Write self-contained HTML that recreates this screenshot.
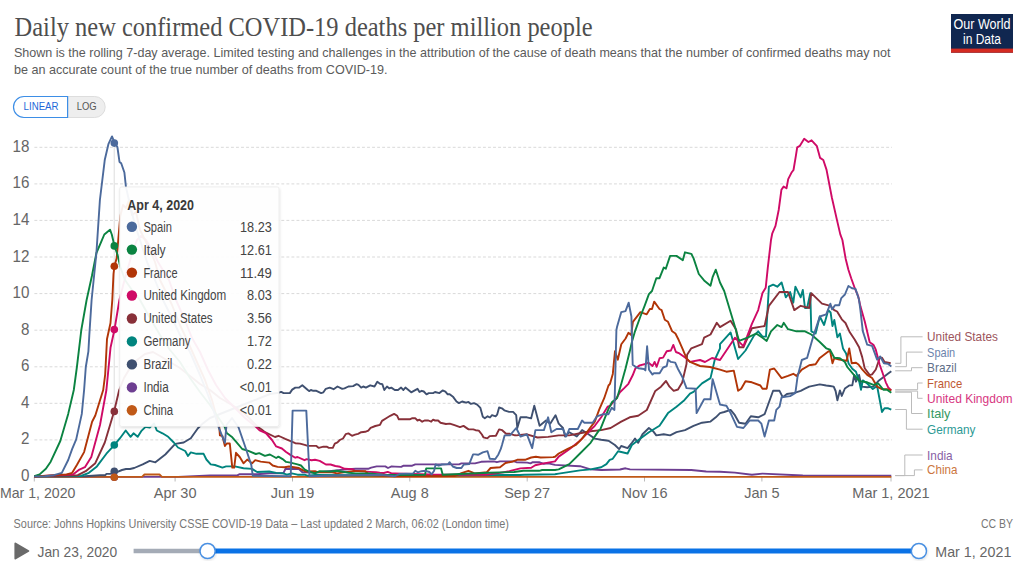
<!DOCTYPE html><html><head><meta charset="utf-8"><style>html,body{margin:0;padding:0;background:#fff;width:1024px;height:565px;overflow:hidden}svg{display:block}text{font-family:"Liberation Sans",sans-serif}</style></head><body>
<svg width="1024" height="565" viewBox="0 0 1024 565">
<text x="14.6" y="35.8" font-family="Liberation Serif" style="font-family:'Liberation Serif',serif" font-size="27" fill="#4e4e4e" textLength="578" lengthAdjust="spacingAndGlyphs">Daily new confirmed COVID-19 deaths per million people</text>
<text x="13.9" y="57" font-size="13.4" fill="#5b5b5b" textLength="876.5" lengthAdjust="spacingAndGlyphs">Shown is the rolling 7-day average. Limited testing and challenges in the attribution of the cause of death means that the number of confirmed deaths may not</text>
<text x="13.9" y="73.75" font-size="13.4" fill="#5b5b5b" textLength="373.6" lengthAdjust="spacingAndGlyphs">be an accurate count of the true number of deaths from COVID-19.</text>
<rect x="951" y="14" width="62" height="38.7" fill="#102750"/><rect x="951" y="48.6" width="62" height="4.1" fill="#d42b21"/>
<text x="982" y="29.3" font-size="13.8" fill="#fff" text-anchor="middle" textLength="57" lengthAdjust="spacingAndGlyphs">Our World</text>
<text x="982" y="43.9" font-size="13.8" fill="#fff" text-anchor="middle" textLength="38" lengthAdjust="spacingAndGlyphs">in Data</text>
<path d="M67.6,96.5 H94.7 A10.5,10.5 0 0 1 94.7,117.5 H67.6 Z" fill="#eee" stroke="#ddd" stroke-width="1"/>
<path d="M67.6,96.5 H24 A10.5,10.5 0 0 0 24,117.5 H67.6 Z" fill="#fff" stroke="#3d8ee6" stroke-width="1.2"/>
<text x="23.6" y="110" font-size="11.8" fill="#1d68d8" textLength="34.9" lengthAdjust="spacingAndGlyphs">LINEAR</text>
<text x="76.7" y="110" font-size="11.8" fill="#555" textLength="19.9" lengthAdjust="spacingAndGlyphs">LOG</text>
<line x1="34.4" y1="439.9" x2="892" y2="439.9" stroke="#d9d9d9" stroke-width="1" stroke-dasharray="2.9,2.14"/>
<line x1="34.4" y1="403.3" x2="892" y2="403.3" stroke="#d9d9d9" stroke-width="1" stroke-dasharray="2.9,2.14"/>
<line x1="34.4" y1="366.8" x2="892" y2="366.8" stroke="#d9d9d9" stroke-width="1" stroke-dasharray="2.9,2.14"/>
<line x1="34.4" y1="330.2" x2="892" y2="330.2" stroke="#d9d9d9" stroke-width="1" stroke-dasharray="2.9,2.14"/>
<line x1="34.4" y1="293.6" x2="892" y2="293.6" stroke="#d9d9d9" stroke-width="1" stroke-dasharray="2.9,2.14"/>
<line x1="34.4" y1="257.0" x2="892" y2="257.0" stroke="#d9d9d9" stroke-width="1" stroke-dasharray="2.9,2.14"/>
<line x1="34.4" y1="220.4" x2="892" y2="220.4" stroke="#d9d9d9" stroke-width="1" stroke-dasharray="2.9,2.14"/>
<line x1="34.4" y1="183.9" x2="892" y2="183.9" stroke="#d9d9d9" stroke-width="1" stroke-dasharray="2.9,2.14"/>
<line x1="34.4" y1="147.3" x2="892" y2="147.3" stroke="#d9d9d9" stroke-width="1" stroke-dasharray="2.9,2.14"/>
<text x="29.5" y="481.1" font-size="16" fill="#666" text-anchor="end" transform="translate(29.5 476.5) scale(0.95 1) translate(-29.5 -476.5)">0</text>
<text x="29.5" y="444.5" font-size="16" fill="#666" text-anchor="end" transform="translate(29.5 439.9) scale(0.95 1) translate(-29.5 -439.9)">2</text>
<text x="29.5" y="407.9" font-size="16" fill="#666" text-anchor="end" transform="translate(29.5 403.3) scale(0.95 1) translate(-29.5 -403.3)">4</text>
<text x="29.5" y="371.4" font-size="16" fill="#666" text-anchor="end" transform="translate(29.5 366.8) scale(0.95 1) translate(-29.5 -366.8)">6</text>
<text x="29.5" y="334.8" font-size="16" fill="#666" text-anchor="end" transform="translate(29.5 330.2) scale(0.95 1) translate(-29.5 -330.2)">8</text>
<text x="29.5" y="298.2" font-size="16" fill="#666" text-anchor="end" transform="translate(29.5 293.6) scale(0.95 1) translate(-29.5 -293.6)">10</text>
<text x="29.5" y="261.6" font-size="16" fill="#666" text-anchor="end" transform="translate(29.5 257.0) scale(0.95 1) translate(-29.5 -257.0)">12</text>
<text x="29.5" y="225.0" font-size="16" fill="#666" text-anchor="end" transform="translate(29.5 220.4) scale(0.95 1) translate(-29.5 -220.4)">14</text>
<text x="29.5" y="188.5" font-size="16" fill="#666" text-anchor="end" transform="translate(29.5 183.9) scale(0.95 1) translate(-29.5 -183.9)">16</text>
<text x="29.5" y="151.9" font-size="16" fill="#666" text-anchor="end" transform="translate(29.5 147.3) scale(0.95 1) translate(-29.5 -147.3)">18</text>
<line x1="34.3" y1="477" x2="34.3" y2="481.5" stroke="#bbb" stroke-width="1"/>
<text x="0" y="498" font-size="14.5" fill="#666" textLength="75.4" lengthAdjust="spacingAndGlyphs">Mar 1, 2020</text>
<line x1="175.1" y1="477" x2="175.1" y2="481.5" stroke="#bbb" stroke-width="1"/>
<text x="175.1" y="498" font-size="14.5" fill="#666" text-anchor="middle">Apr 30</text>
<line x1="292.5" y1="477" x2="292.5" y2="481.5" stroke="#bbb" stroke-width="1"/>
<text x="292.5" y="498" font-size="14.5" fill="#666" text-anchor="middle">Jun 19</text>
<line x1="409.8" y1="477" x2="409.8" y2="481.5" stroke="#bbb" stroke-width="1"/>
<text x="409.8" y="498" font-size="14.5" fill="#666" text-anchor="middle">Aug 8</text>
<line x1="527.2" y1="477" x2="527.2" y2="481.5" stroke="#bbb" stroke-width="1"/>
<text x="527.2" y="498" font-size="14.5" fill="#666" text-anchor="middle">Sep 27</text>
<line x1="644.5" y1="477" x2="644.5" y2="481.5" stroke="#bbb" stroke-width="1"/>
<text x="644.5" y="498" font-size="14.5" fill="#666" text-anchor="middle">Nov 16</text>
<line x1="761.9" y1="477" x2="761.9" y2="481.5" stroke="#bbb" stroke-width="1"/>
<text x="761.9" y="498" font-size="14.5" fill="#666" text-anchor="middle">Jan 5</text>
<line x1="891.0" y1="477" x2="891.0" y2="481.5" stroke="#bbb" stroke-width="1"/>
<text x="891.0" y="498" font-size="14.5" fill="#666" text-anchor="middle">Mar 1, 2021</text>
<line x1="34.3" y1="476.5" x2="891.5" y2="476.5" stroke="#ccc" stroke-width="1"/>
<line x1="114.2" y1="142.7" x2="114.2" y2="476.5" stroke="#ddd" stroke-width="1"/>
<polyline points="34.3,476.9 178.0,476.9 210.0,475.4 237.3,475.4 239.7,474.2 257.1,474.2 270.0,473.3 283.3,473.3 285.4,469.0 298.9,469.0 302.4,472.2 315.0,472.6 340.8,469.9 344.7,469.5 355.6,468.8 368.1,468.8 371.2,467.6 376.7,466.4 385.3,466.4 388.0,468.0 391.6,466.4 395.0,466.6 401.2,466.9 403.6,465.7 412.2,465.7 415.3,464.4 459.1,464.4 461.4,463.4 475.0,463.4 481.2,461.8 493.8,461.4 496.9,462.2 500.0,461.4 514.1,461.4 516.4,462.2 527.3,462.6 530.5,463.4 532.8,462.2 539.1,462.2 543.8,463.8 548.4,463.4 555.0,464.9 558.7,465.1 580.0,466.2 590.6,469.4 601.2,470.0 620.0,469.5 625.5,468.3 630.0,469.4 691.3,470.0 706.2,471.5 720.0,471.8 734.9,472.6 751.9,474.7 762.5,473.6 802.8,475.5 891.3,475.6" fill="none" stroke="#6D3E91" stroke-width="1.9" stroke-linejoin="round"/>
<polyline points="34.3,476.9 142.0,476.9 144.5,474.5 159.5,474.5 162.0,476.9 891.3,476.9" fill="none" stroke="#C05917" stroke-width="1.9" stroke-linejoin="round"/>
<polyline points="34.3,476.4 85.0,476.2 100.0,475.2 105.3,475.2 106.5,473.9 110.0,473.9 114.1,472.5 117.5,471.9 122.0,470.0 126.0,469.0 130.0,469.0 134.2,468.0 142.7,464.4 149.7,460.9 155.4,462.3 165.3,454.5 175.2,443.9 183.7,442.5 190.8,438.2 197.9,428.3 202.2,424.1 210.0,418.0 220.0,414.0 230.0,410.0 240.0,406.0 250.0,402.0 260.0,398.0 270.0,394.0 278.9,392.7 281.2,391.9 283.6,393.1 289.8,393.1 292.2,389.6 295.3,387.6 299.2,387.6 302.3,385.3 307.8,390.0 309.4,391.1 310.9,390.0 313.3,390.8 316.4,390.8 321.1,393.1 323.4,392.3 325.8,388.8 329.7,387.6 333.6,389.2 337.5,386.5 342.2,388.8 344.5,388.4 348.4,386.5 353.1,386.1 356.6,384.1 358.5,384.9 361.2,387.6 363.2,386.5 365.9,387.6 370.2,385.3 374.5,386.5 377.3,381.8 380.0,383.7 382.3,384.1 384.3,390.0 387.0,386.5 389.4,388.4 391.3,387.6 394.8,390.0 398.0,390.0 401.1,387.6 403.4,390.0 405.4,387.6 411.2,392.3 417.5,388.8 419.5,391.9 421.8,390.8 423.8,391.5 426.5,394.3 428.8,393.1 433.1,393.1 435.0,392.0 439.4,393.1 442.6,390.4 445.4,391.6 447.7,394.3 449.7,394.3 453.3,397.1 456.5,401.5 458.9,403.1 462.1,401.5 466.1,402.7 468.5,401.9 470.9,403.9 474.0,403.1 477.2,404.7 480.4,407.9 482.8,416.7 484.8,418.2 487.6,416.3 490.0,417.5 492.0,415.1 495.6,416.3 497.1,414.7 499.1,407.5 501.9,408.3 504.3,410.3 509.1,411.9 513.1,411.9 516.2,415.2 517.3,428.0 520.5,417.3 526.9,417.3 531.1,418.4 534.3,405.7 539.6,425.8 546.0,420.5 550.2,423.7 555.5,415.2 558.7,423.7 563.0,428.0 565.1,436.5 569.3,432.2 576.8,436.5 582.1,430.1 588.5,434.3 594.8,438.6 601.2,439.7 608.5,440.7 614.9,445.0 619.1,449.2 621.2,446.0 627.6,448.1 631.9,442.8 635.0,438.6 638.2,442.8 642.5,434.3 648.9,428.0 653.1,431.2 656.3,435.4 663.7,434.3 670.1,435.4 676.5,432.2 685.0,430.1 693.5,425.8 702.0,422.7 710.5,421.6 715.8,417.3 720.0,413.1 724.2,412.0 730.6,409.9 734.9,415.2 739.1,422.7 745.5,423.7 750.8,416.3 758.2,417.3 764.6,414.2 773.1,390.8 779.5,390.8 782.7,397.2 786.9,394.0 794.3,392.9 800.7,390.8 805.0,388.7 809.2,386.6 819.8,384.4 826.2,385.5 830.0,386.0 833.7,386.6 835.6,391.0 837.4,400.3 839.9,390.4 841.8,395.9 844.9,388.5 849.2,385.4 852.3,385.4 854.2,374.9 856.0,381.7 859.1,374.9 861.6,386.6 867.2,387.3 873.4,386.6 878.3,381.1 883.3,377.3 888.2,373.6 891.3,371.2" fill="none" stroke="#3F5070" stroke-width="1.9" stroke-linejoin="round"/>
<polyline points="34.3,476.4 81.0,476.0 88.9,472.8 96.9,466.4 106.4,453.7 114.1,445.4 120.0,438.2 125.7,430.5 130.6,436.8 133.5,433.3 137.7,436.8 141.2,431.2 145.5,426.9 149.7,427.6 154.0,423.4 156.8,430.5 162.5,433.3 168.2,436.8 173.8,442.5 178.0,447.5 185.2,451.0 188.0,456.0 190.8,452.4 196.5,453.8 203.6,453.8 206.4,459.5 210.7,464.4 215.0,465.0 222.4,467.6 226.1,466.4 234.8,466.4 243.5,468.2 252.1,468.9 257.1,472.0 269.2,471.5 276.2,472.9 283.3,473.3 286.8,474.7 291.8,473.3 297.5,474.7 304.5,474.7 307.4,475.7 315.0,475.0 400.0,475.5 520.0,475.0 524.2,474.7 555.0,474.3 558.7,473.6 580.0,470.4 590.6,469.4 601.2,467.3 606.4,464.1 609.7,459.8 612.7,458.8 618.1,451.3 627.6,453.5 631.9,445.0 640.4,438.6 648.9,432.2 659.5,425.8 668.0,413.1 676.5,406.7 683.7,400.8 690.0,393.7 693.5,391.9 702.0,383.4 710.5,378.1 714.7,360.0 720.0,348.3 720.0,344.1 730.6,332.4 738.1,359.0 745.5,350.5 754.0,335.6 758.2,331.3 762.5,336.6 766.0,336.6 768.9,286.7 773.1,284.6 777.3,286.7 781.6,282.5 785.8,297.3 790.1,292.0 793.3,302.7 795.4,286.7 800.7,297.3 802.8,289.9 805.0,308.0 807.1,308.0 810.3,293.1 811.3,331.3 815.6,333.5 819.8,316.5 824.1,325.0 828.3,310.1 830.6,312.5 832.5,326.1 834.3,319.9 837.4,337.3 839.9,333.5 843.0,348.4 846.1,353.4 848.6,363.5 852.3,368.7 856.0,371.8 859.1,381.1 861.0,389.7 862.8,380.4 867.2,383.5 872.8,389.1 877.1,386.0 882.0,412.0 884.5,408.3 888.2,408.3 891.3,409.6" fill="none" stroke="#00847E" stroke-width="1.9" stroke-linejoin="round"/>
<polyline points="34.3,476.4 77.8,475.2 85.7,471.2 95.3,463.2 104.8,442.5 114.1,411.5 119.2,390.0 124.0,378.0 130.0,368.0 137.0,360.0 145.0,354.0 153.0,352.0 160.0,356.0 170.0,362.0 180.0,368.0 190.0,376.0 200.0,384.0 210.0,390.0 220.0,398.0 232.0,405.0 245.0,414.0 258.3,427.3 262.0,429.8 265.0,432.2 275.0,437.0 278.5,435.8 281.2,437.0 285.2,438.9 290.6,441.2 295.3,443.2 300.0,443.6 304.7,444.8 307.8,445.9 316.4,445.9 318.8,447.9 323.4,446.7 326.6,446.7 328.9,447.9 332.8,447.9 334.8,443.6 337.5,442.4 339.8,440.0 343.0,438.5 345.7,434.2 348.4,433.4 352.0,435.8 355.0,434.6 358.1,433.8 361.2,432.2 365.2,431.8 368.3,430.6 370.6,427.9 375.3,426.0 380.0,424.8 382.0,420.9 386.2,418.2 390.2,415.8 394.1,413.9 397.2,415.8 398.8,419.3 409.7,419.3 412.4,418.2 415.2,418.2 417.5,420.5 419.5,419.7 422.2,421.7 424.5,420.5 428.4,420.5 431.2,421.7 433.1,419.7 435.0,420.5 438.1,420.5 440.5,422.8 445.9,424.0 449.8,423.6 454.5,425.2 460.0,427.1 463.5,425.9 468.6,429.4 473.3,429.4 475.6,430.2 478.8,430.6 481.9,434.5 483.4,437.3 487.3,438.4 489.7,436.1 495.9,435.7 499.1,429.4 502.2,430.2 506.1,433.8 510.0,433.8 515.0,435.3 516.2,435.4 526.9,434.3 537.5,437.5 548.1,436.9 558.7,435.4 569.3,435.4 580.0,433.3 590.6,431.2 601.2,430.1 610.6,428.0 621.2,421.6 629.7,417.3 638.2,415.7 646.8,410.0 655.3,390.9 661.0,386.7 666.0,381.0 669.5,386.7 673.7,390.9 678.0,389.5 682.2,382.4 686.5,364.0 687.1,354.7 691.3,348.3 702.0,344.1 704.1,337.7 710.5,334.5 716.8,322.8 720.0,327.1 730.6,320.7 735.9,329.2 739.1,347.3 743.4,347.3 751.9,328.2 764.6,326.0 768.9,305.8 779.5,292.0 788.0,292.0 794.3,310.1 800.7,305.8 809.2,308.0 811.3,293.1 822.0,303.7 830.4,305.8 834.2,310.1 837.1,311.5 841.8,319.3 845.5,323.0 849.8,332.3 854.8,339.7 859.1,347.2 862.2,357.1 864.7,368.2 869.7,375.1 872.1,374.4 875.8,369.5 879.6,358.3 882.0,357.7 884.5,362.0 890.7,363.3" fill="none" stroke="#883039" stroke-width="1.9" stroke-linejoin="round"/>
<polyline points="34.3,476.4 73.0,474.4 79.4,469.6 84.9,467.2 91.3,456.9 100.0,425.0 106.4,390.0 110.5,347.8 114.4,330.0 119.4,300.0 124.0,282.0 128.0,268.0 133.0,250.0 137.0,240.0 141.0,236.0 146.0,240.0 152.0,250.0 158.0,262.0 164.0,272.0 169.0,280.0 176.0,300.0 184.0,318.0 192.0,338.0 200.0,352.0 208.0,370.0 216.0,385.0 225.0,398.0 235.0,408.0 245.0,418.0 256.5,427.3 259.6,430.4 265.8,433.0 272.0,440.0 276.2,446.4 281.9,448.5 286.1,452.0 290.4,454.9 295.3,457.7 297.5,457.0 304.5,460.2 306.7,459.1 311.6,460.2 315.0,459.8 319.7,460.9 325.9,464.5 330.6,464.5 335.3,466.0 340.0,466.8 344.7,468.8 352.5,469.1 354.8,470.7 369.7,471.9 375.9,472.3 379.8,472.7 383.8,473.0 387.7,471.9 391.6,473.4 395.0,473.4 430.0,474.5 470.0,474.8 485.2,474.7 498.4,473.1 509.4,471.2 520.3,468.4 531.2,467.7 535.2,465.3 543.8,463.4 555.0,461.4 558.7,456.6 569.3,449.2 580.0,440.7 588.5,432.2 594.8,425.8 601.2,417.3 607.6,406.7 610.0,405.8 615.7,399.4 619.9,392.3 624.2,388.1 628.4,383.8 632.7,375.3 635.5,368.2 639.7,365.4 645.4,364.0 648.2,362.6 652.5,366.1 654.6,361.9 656.7,366.8 659.6,358.3 663.1,357.6 666.7,351.2 670.9,350.5 673.3,344.9 675.9,352.0 679.4,353.4 685.1,357.6 690.0,361.9 700.0,360.0 705.0,362.0 712.0,358.0 720.0,360.0 726.4,350.5 734.9,337.7 743.4,346.2 751.9,323.9 758.2,310.1 762.5,293.1 765.7,287.8 767.8,267.6 771.0,240.0 772.3,233.3 775.5,225.9 778.7,210.0 781.4,189.8 783.6,186.6 786.5,188.3 788.2,179.2 791.4,172.8 793.5,170.0 795.7,156.9 797.2,147.3 799.9,145.8 804.2,138.8 808.4,142.0 811.6,140.3 816.9,146.2 820.1,157.9 823.3,160.0 826.5,169.6 831.8,197.2 837.1,220.6 840.3,234.4 842.4,240.0 845.6,258.4 848.4,269.7 851.2,278.2 854.8,288.2 858.3,296.7 860.5,306.6 864.7,321.2 869.7,342.2 873.4,344.7 875.8,349.7 879.6,364.5 882.0,371.2 885.8,382.3 888.2,387.3 891.3,390.4" fill="none" stroke="#CF0A66" stroke-width="1.9" stroke-linejoin="round"/>
<polyline points="34.3,476.4 66.6,474.4 72.2,472.8 77.0,464.8 84.1,452.1 92.1,421.8 95.3,415.5 103.2,390.0 105.2,374.3 107.0,339.0 110.5,323.0 112.3,300.0 113.5,274.0 114.4,266.4 116.7,258.0 119.4,226.5 120.3,216.0 123.0,205.0 126.0,208.0 129.0,200.0 132.0,215.0 136.0,212.0 140.0,230.0 145.0,240.0 150.0,250.0 155.0,262.0 160.0,280.0 166.0,292.0 172.0,305.0 180.0,325.0 188.0,342.0 196.0,360.0 205.0,380.0 212.0,400.0 219.3,427.3 219.9,435.4 222.4,436.0 224.9,446.0 226.7,443.5 229.8,443.5 232.3,467.6 234.2,467.6 236.0,452.8 239.7,457.0 243.5,463.3 247.2,459.6 252.1,463.3 255.2,460.2 260.7,461.6 269.2,462.6 272.7,465.5 277.6,466.9 284.7,467.2 289.0,466.5 293.9,467.2 298.9,468.0 303.1,470.4 306.0,471.5 315.0,471.1 318.1,472.3 332.2,472.3 336.9,473.4 352.5,471.1 365.0,471.1 369.7,475.0 395.0,476.2 455.0,476.0 461.4,473.1 468.4,470.8 472.3,472.3 475.0,473.5 486.7,472.3 490.6,468.0 500.0,467.3 505.5,463.0 511.7,461.8 517.2,459.8 525.0,459.8 531.2,457.5 535.9,456.7 540.6,457.5 553.1,457.1 555.0,456.7 558.7,453.5 567.2,449.2 575.7,445.0 582.1,438.6 588.5,430.1 594.8,421.6 599.1,409.9 604.2,398.2 608.5,385.5 610.0,383.8 612.8,373.9 615.0,351.2 617.8,359.7 621.3,344.2 625.6,338.5 628.4,332.8 631.2,335.0 632.9,321.8 640.4,312.2 646.7,314.3 649.9,309.0 652.0,309.0 654.2,301.6 659.5,309.0 661.6,310.1 664.8,319.7 668.0,321.8 672.2,331.3 675.4,333.5 678.6,339.8 682.8,349.4 686.5,358.3 690.0,361.9 700.0,366.0 710.0,367.0 720.0,369.6 726.4,371.7 733.8,370.6 738.1,390.8 741.2,388.7 745.5,381.2 751.9,382.3 760.4,385.5 762.5,388.7 766.7,388.7 769.9,369.6 774.2,368.5 781.6,378.1 788.0,375.9 793.3,373.8 796.5,375.9 801.8,369.6 809.2,365.3 815.6,364.2 819.8,357.9 828.3,351.5 830.0,350.9 832.5,363.3 834.3,358.3 839.3,359.6 846.7,360.8 849.2,348.4 851.7,363.3 856.0,362.7 858.5,364.5 862.2,369.3 867.2,374.9 872.1,378.0 877.1,386.6 882.0,389.1 887.0,389.1 891.3,390.4" fill="none" stroke="#B13507" stroke-width="1.9" stroke-linejoin="round"/>
<polyline points="34.3,476.2 39.6,474.4 45.9,468.8 50.7,461.7 60.3,441.0 68.2,413.9 73.8,390.0 76.9,367.0 81.3,330.0 86.6,300.0 91.9,276.0 96.4,253.0 101.7,240.7 104.3,234.5 110.0,229.7 111.8,234.5 114.4,245.7 117.6,254.9 120.3,267.0 125.0,280.0 132.0,290.0 140.0,300.0 150.0,318.0 160.0,335.0 170.0,350.0 180.0,362.0 190.0,378.0 200.0,392.0 210.0,405.0 220.0,420.0 224.9,427.3 226.7,433.0 232.3,437.3 236.0,441.6 242.2,449.0 248.4,450.9 255.8,454.0 259.2,453.1 264.9,455.9 269.9,454.5 276.2,458.0 278.4,456.6 282.6,459.1 286.1,461.9 290.4,462.6 297.5,464.4 301.0,465.5 304.5,469.4 308.8,471.5 315.0,473.4 319.7,471.1 330.6,471.5 336.9,470.7 348.6,472.7 355.6,473.4 369.7,473.4 385.3,475.0 395.0,475.0 425.1,474.7 426.2,468.4 441.1,468.4 442.7,474.7 489.1,472.7 514.1,472.0 523.4,470.8 539.1,470.8 542.2,470.0 555.0,470.0 558.7,469.4 569.3,464.1 580.0,453.5 590.6,442.8 599.1,430.1 600.0,430.1 608.5,408.9 612.1,402.0 617.1,398.0 621.3,383.8 625.6,368.2 629.8,351.2 631.9,342.0 635.0,331.3 640.4,316.5 644.6,305.8 648.9,294.2 652.0,291.0 656.3,278.2 659.5,278.2 663.7,267.6 665.8,268.7 670.1,255.9 676.5,255.9 682.8,260.2 685.0,252.3 691.3,253.8 693.5,258.1 698.8,274.0 704.1,280.4 710.5,285.7 712.6,277.2 715.8,269.7 720.0,282.5 724.2,291.0 730.6,312.2 737.0,333.5 739.1,340.9 747.6,337.7 756.1,333.5 762.5,337.7 766.7,340.9 771.0,331.3 777.3,325.0 781.6,327.1 783.7,322.8 788.0,329.2 796.5,331.3 805.0,331.3 811.3,334.5 819.8,342.0 826.2,348.3 830.0,349.7 834.3,357.7 839.9,358.3 844.9,362.0 847.3,367.0 853.5,374.3 859.7,381.1 867.2,382.3 873.4,384.8 878.3,383.5 883.3,389.7 887.0,389.7 891.3,392.8" fill="none" stroke="#0B8341" stroke-width="1.9" stroke-linejoin="round"/>
<polyline points="34.3,476.4 45.0,476.3 53.9,475.2 61.8,472.8 68.2,460.0 72.2,448.9 76.2,439.4 81.8,413.9 84.1,390.0 85.8,367.0 88.4,351.3 89.3,335.4 91.6,300.0 96.4,253.0 99.9,200.0 104.8,159.7 108.4,144.2 112.0,136.4 114.5,142.7 117.4,147.0 119.5,161.9 121.2,163.3 124.4,172.5 125.9,186.7 130.0,205.0 135.0,225.0 140.0,240.0 147.0,262.0 155.0,280.0 163.0,300.0 172.0,318.0 180.0,335.0 190.0,352.0 200.0,375.0 208.0,395.0 214.0,412.0 218.7,427.3 224.9,442.8 226.5,425.0 232.0,418.0 238.5,427.3 246.0,449.0 251.3,465.0 252.8,475.9 270.0,476.0 290.7,476.2 292.6,410.6 306.3,410.6 309.5,476.2 340.0,475.5 380.0,474.8 395.0,476.2 399.7,473.9 413.0,473.5 415.3,470.8 417.7,472.3 421.6,471.2 425.5,470.8 429.4,472.0 431.7,474.3 434.1,470.8 435.6,464.5 438.8,465.7 441.9,464.5 448.1,464.1 449.7,462.2 452.8,466.5 456.7,468.0 461.4,468.0 463.8,464.5 469.2,464.1 473.1,454.4 475.0,454.4 478.1,454.8 482.8,452.4 487.5,451.2 489.8,458.7 495.3,459.1 498.4,454.4 500.8,448.9 502.0,445.0 504.6,435.4 509.9,435.4 516.2,428.0 520.5,436.5 526.9,434.3 532.2,448.1 535.4,430.1 543.9,430.1 548.1,417.3 551.3,432.2 556.6,429.0 563.0,429.0 566.2,436.5 569.3,429.0 577.8,429.0 582.1,420.5 584.2,422.7 592.7,422.7 597.0,416.3 603.3,414.2 608.5,414.2 611.7,407.8 614.4,409.9 616.4,330.0 617.0,327.1 621.2,312.2 625.5,311.1 628.7,302.7 631.4,316.5 632.7,364.7 635.5,366.8 638.3,368.2 644.0,369.0 645.4,370.4 647.1,346.3 649.0,369.7 652.5,374.6 653.9,373.2 659.6,373.2 663.1,367.5 666.7,366.1 668.1,359.7 670.9,361.9 675.2,362.6 678.0,369.0 682.2,376.7 686.5,388.1 695.6,388.7 696.6,413.1 704.1,399.3 710.5,399.3 712.6,379.1 720.0,404.6 726.4,405.7 730.6,413.1 737.0,426.9 743.4,428.0 749.7,420.5 758.2,420.5 761.4,423.7 764.6,436.5 768.9,420.5 774.2,420.5 776.3,409.9 779.5,406.7 781.6,397.2 790.1,396.1 795.4,392.9 797.5,377.0 801.8,360.0 807.1,357.9 813.5,335.6 819.8,316.5 826.2,314.3 830.4,303.7 832.1,309.4 835.0,305.2 839.2,305.2 841.3,298.1 844.9,294.5 848.4,286.0 852.0,288.2 855.5,288.9 859.0,299.5 860.4,310.0 862.8,331.1 867.2,344.7 872.1,345.9 877.1,359.6 880.2,356.5 883.9,363.3 888.2,363.9 891.3,366.4" fill="none" stroke="#4C6A9C" stroke-width="1.9" stroke-linejoin="round"/>
<circle cx="114.3" cy="471.3" r="3.8" fill="#3F5070"/>
<circle cx="114.3" cy="477.3" r="3.8" fill="#6D3E91"/>
<circle cx="114.3" cy="445.0" r="3.8" fill="#00847E"/>
<circle cx="114.3" cy="411.4" r="3.8" fill="#883039"/>
<circle cx="114.3" cy="329.6" r="3.8" fill="#CF0A66"/>
<circle cx="114.3" cy="266.3" r="3.8" fill="#B13507"/>
<circle cx="114.3" cy="245.9" r="3.8" fill="#0B8341"/>
<circle cx="114.3" cy="143.1" r="3.8" fill="#4C6A9C"/>
<circle cx="114.3" cy="477.3" r="3.8" fill="#C05917"/>
<defs><filter id="sh" x="-10%" y="-10%" width="120%" height="120%"><feDropShadow dx="0.5" dy="1.2" stdDeviation="1.3" flood-color="#000" flood-opacity="0.13"/></filter></defs>
<rect x="119.7" y="186.9" width="159.3" height="239.6" rx="2" fill="#fff" fill-opacity="0.93" stroke="#e8e8e8" stroke-width="0.7" filter="url(#sh)"/>
<text x="127.3" y="209.7" font-size="14" font-weight="700" fill="#3a3a3a" textLength="66.7" lengthAdjust="spacingAndGlyphs">Apr 4, 2020</text>
<circle cx="131.9" cy="226.7" r="5.2" fill="#4C6A9C"/>
<text x="143.4" y="231.6" font-size="14" fill="#444" textLength="28.5" lengthAdjust="spacingAndGlyphs">Spain</text>
<text x="271.8" y="231.6" font-size="14" fill="#444" text-anchor="end" textLength="31.8" lengthAdjust="spacingAndGlyphs">18.23</text>
<circle cx="131.9" cy="249.6" r="5.2" fill="#0B8341"/>
<text x="143.4" y="254.5" font-size="14" fill="#444" textLength="22.3" lengthAdjust="spacingAndGlyphs">Italy</text>
<text x="271.8" y="254.5" font-size="14" fill="#444" text-anchor="end" textLength="31.8" lengthAdjust="spacingAndGlyphs">12.61</text>
<circle cx="131.9" cy="272.6" r="5.2" fill="#B13507"/>
<text x="143.4" y="277.5" font-size="14" fill="#444" textLength="34.1" lengthAdjust="spacingAndGlyphs">France</text>
<text x="271.8" y="277.5" font-size="14" fill="#444" text-anchor="end" textLength="31.8" lengthAdjust="spacingAndGlyphs">11.49</text>
<circle cx="131.9" cy="295.5" r="5.2" fill="#CF0A66"/>
<text x="143.4" y="300.4" font-size="14" fill="#444" textLength="82.9" lengthAdjust="spacingAndGlyphs">United Kingdom</text>
<text x="271.8" y="300.4" font-size="14" fill="#444" text-anchor="end" textLength="24.8" lengthAdjust="spacingAndGlyphs">8.03</text>
<circle cx="131.9" cy="318.5" r="5.2" fill="#883039"/>
<text x="143.4" y="323.4" font-size="14" fill="#444" textLength="69.2" lengthAdjust="spacingAndGlyphs">United States</text>
<text x="271.8" y="323.4" font-size="14" fill="#444" text-anchor="end" textLength="24.8" lengthAdjust="spacingAndGlyphs">3.56</text>
<circle cx="131.9" cy="341.4" r="5.2" fill="#00847E"/>
<text x="143.4" y="346.3" font-size="14" fill="#444" textLength="47.1" lengthAdjust="spacingAndGlyphs">Germany</text>
<text x="271.8" y="346.3" font-size="14" fill="#444" text-anchor="end" textLength="24.8" lengthAdjust="spacingAndGlyphs">1.72</text>
<circle cx="131.9" cy="364.4" r="5.2" fill="#3F5070"/>
<text x="143.4" y="369.3" font-size="14" fill="#444" textLength="29" lengthAdjust="spacingAndGlyphs">Brazil</text>
<text x="271.8" y="369.3" font-size="14" fill="#444" text-anchor="end" textLength="24.8" lengthAdjust="spacingAndGlyphs">0.22</text>
<circle cx="131.9" cy="387.4" r="5.2" fill="#6D3E91"/>
<text x="143.4" y="392.2" font-size="14" fill="#444" textLength="25.3" lengthAdjust="spacingAndGlyphs">India</text>
<text x="271.8" y="392.2" font-size="14" fill="#444" text-anchor="end" textLength="32" lengthAdjust="spacingAndGlyphs">&lt;0.01</text>
<circle cx="131.9" cy="410.3" r="5.2" fill="#C05917"/>
<text x="143.4" y="415.2" font-size="14" fill="#444" textLength="29.8" lengthAdjust="spacingAndGlyphs">China</text>
<text x="271.8" y="415.2" font-size="14" fill="#444" text-anchor="end" textLength="32" lengthAdjust="spacingAndGlyphs">&lt;0.01</text>
<polyline points="895.2,363.3 900.9,363.3 900.9,336.8 922.6,336.8" fill="none" stroke="#bbb" stroke-width="1"/>
<text x="927.1" y="341.3" font-size="12.8" fill="#9d555c" textLength="70.8" lengthAdjust="spacingAndGlyphs">United States</text>
<polyline points="895.2,366.7 906.4,366.7 906.4,352.1 922.6,352.1" fill="none" stroke="#bbb" stroke-width="1"/>
<text x="927.1" y="356.6" font-size="12.8" fill="#6c84ad" textLength="28.1" lengthAdjust="spacingAndGlyphs">Spain</text>
<polyline points="895.2,370.8 911.5,370.8 911.5,367.7 922.6,367.7" fill="none" stroke="#bbb" stroke-width="1"/>
<text x="927.1" y="372.2" font-size="12.8" fill="#616f89" textLength="29.5" lengthAdjust="spacingAndGlyphs">Brazil</text>
<polyline points="895.2,389.7 917.6,389.7 917.6,383 922.6,383" fill="none" stroke="#bbb" stroke-width="1"/>
<text x="927.1" y="387.5" font-size="12.8" fill="#bf5933" textLength="35.2" lengthAdjust="spacingAndGlyphs">France</text>
<polyline points="895.2,391.1 917.6,391.1 917.6,398.3 922.6,398.3" fill="none" stroke="#bbb" stroke-width="1"/>
<text x="927.1" y="402.8" font-size="12.8" fill="#d73681" textLength="85.5" lengthAdjust="spacingAndGlyphs">United Kingdom</text>
<polyline points="895.2,392.2 911.5,392.2 911.5,413.5 922.6,413.5" fill="none" stroke="#bbb" stroke-width="1"/>
<text x="927.1" y="418.0" font-size="12.8" fill="#369963" textLength="23.4" lengthAdjust="spacingAndGlyphs">Italy</text>
<polyline points="895.2,409.5 906.4,409.5 906.4,429.2 922.6,429.2" fill="none" stroke="#bbb" stroke-width="1"/>
<text x="927.1" y="433.7" font-size="12.8" fill="#2d9a95" textLength="48.4" lengthAdjust="spacingAndGlyphs">Germany</text>
<polyline points="895.2,475.6 904.8,475.6 904.8,455 922.6,455" fill="none" stroke="#bbb" stroke-width="1"/>
<text x="927.1" y="459.5" font-size="12.8" fill="#8760a4" textLength="25.5" lengthAdjust="spacingAndGlyphs">India</text>
<polyline points="895.2,475.6 914.4,475.6 914.4,469.9 922.6,469.9" fill="none" stroke="#bbb" stroke-width="1"/>
<text x="927.1" y="474.4" font-size="12.8" fill="#cb7640" textLength="30.3" lengthAdjust="spacingAndGlyphs">China</text>
<text x="13.6" y="528.4" font-size="12" fill="#777" textLength="495.4" lengthAdjust="spacingAndGlyphs">Source: Johns Hopkins University CSSE COVID-19 Data – Last updated 2 March, 06:02 (London time)</text>
<text x="1013" y="528.2" font-size="12" fill="#777" text-anchor="end" textLength="32" lengthAdjust="spacingAndGlyphs">CC BY</text>
<path d="M15.4,543.6 L28.3,551 L15.4,558.4 Z" fill="#6a6a6a" stroke="#6a6a6a" stroke-width="2" stroke-linejoin="round"/>
<text x="37.5" y="557" font-size="15" fill="#666" textLength="79.7" lengthAdjust="spacingAndGlyphs">Jan 23, 2020</text>
<line x1="133.6" y1="551" x2="207.4" y2="551" stroke="#a4abb6" stroke-width="4.5"/>
<line x1="207.4" y1="551" x2="918.9" y2="551" stroke="#0a72e6" stroke-width="5"/>
<circle cx="207.6" cy="551" r="7.6" fill="#fff" stroke="#4a90e2" stroke-width="1.5" filter="url(#sh)"/>
<circle cx="918.9" cy="551" r="7.6" fill="#fff" stroke="#4a90e2" stroke-width="1.5" filter="url(#sh)"/>
<text x="935.3" y="557" font-size="15" fill="#666" textLength="76" lengthAdjust="spacingAndGlyphs">Mar 1, 2021</text>
</svg></body></html>
